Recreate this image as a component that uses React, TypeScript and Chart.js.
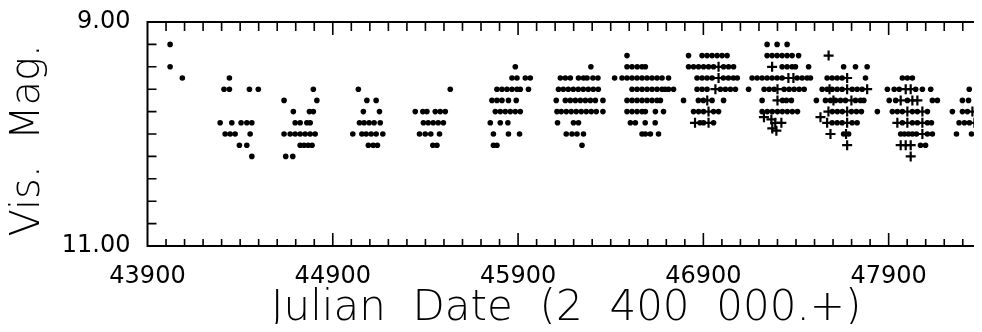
import { useEffect, useRef } from "react";
import { Chart, registerables } from "chart.js";

Chart.register(...registerables);

// Each row: [visual magnitude, Julian dates (2 400 000 +) of the estimates]
type Row = [number, number[]];

const xTickLabels = [43900, 44900, 45900, 46900, 47900];
const yTickLabels = [9.0, 11.0];
const X_MIN = 43900;
const X_MAX = 48420;
const Y_MIN = 9.0;
const Y_MAX = 11.0;

// ---- visual estimates (dots) ----
const season0: Row[] = [
  [9.2, [44022]],
  [9.4, [44022]],
  [9.5, [44088]],
];
const season1: Row[] = [
  [9.5, [44342]],
  [9.6, [44313, 44342, 44450, 44498]],
  [9.9, [44292, 44355, 44405, 44436, 44463]],
  [10.0, [44319, 44346, 44373, 44454]],
  [10.1, [44396, 44436]],
  [10.2, [44463]],
];
const season2: Row[] = [
  [9.6, [44795]],
  [9.7, [44637, 44814]],
  [9.8, [44687, 44774, 44795]],
  [9.9, [44697, 44724, 44760, 44778]],
  [10.0, [44637, 44670, 44697, 44724, 44751, 44778, 44805]],
  [10.1, [44724, 44745, 44767, 44788]],
  [10.2, [44646, 44684]],
];
const season3: Row[] = [
  [9.6, [45038]],
  [9.7, [45084, 45134]],
  [9.8, [45065, 45152]],
  [9.9, [45044, 45069, 45096, 45123, 45156]],
  [10.0, [45008, 45057, 45080, 45107, 45134, 45170]],
  [10.1, [45092, 45118, 45141]],
];
const season4: Row[] = [
  [9.6, [45534]],
  [9.8, [45345, 45386, 45408, 45453, 45480, 45507]],
  [9.9, [45389, 45415, 45442, 45469, 45497]],
  [10.0, [45368, 45399, 45429, 45476]],
  [10.1, [45440, 45462]],
];
const season5: Row[] = [
  [9.4, [45885]],
  [9.5, [45867, 45894, 45939, 45966]],
  [9.6, [45786, 45813, 45840, 45867, 45894, 45912, 45956]],
  [9.7, [45759, 45786, 45813, 45848, 45890]],
  [9.8, [45777, 45804, 45831, 45858, 45885, 45912]],
  [9.9, [45750, 45804, 45845]],
  [10.0, [45767, 45848, 45908]],
  [10.1, [45767, 45786]],
];
const season6: Row[] = [
  [9.4, [46293]],
  [9.5, [46128, 46155, 46182, 46226, 46253, 46272, 46304, 46331]],
  [9.6, [46118, 46144, 46171, 46198, 46225, 46252, 46279, 46306, 46333]],
  [9.7, [46106, 46155, 46182, 46209, 46236, 46263, 46290, 46317, 46358]],
  [9.8, [46110, 46133, 46160, 46187, 46214, 46241, 46268, 46295, 46322, 46358]],
  [9.9, [46113, 46199, 46226]],
  [10.0, [46160, 46191, 46218, 46253]],
  [10.1, [46245]],
];
const season7: Row[] = [
  [9.3, [46488]],
  [9.4, [46488, 46515, 46543, 46569, 46587]],
  [9.5, [46421, 46461, 46488, 46515, 46542, 46569, 46596, 46623, 46650, 46677, 46712]],
  [9.6, [46515, 46542, 46569, 46596, 46623, 46650, 46677, 46694, 46712, 46739]],
  [9.7, [46488, 46515, 46542, 46569, 46596, 46623, 46650, 46668]],
  [9.8, [46488, 46515, 46542, 46569, 46587, 46641, 46685]],
  [9.9, [46506, 46533, 46586, 46640]],
  [10.0, [46569, 46587, 46614, 46658]],
];
const season8: Row[] = [
  [9.3, [46820, 46893, 46920, 46947, 46974, 47001, 47028]],
  [9.4, [46820, 46847, 46874, 46901, 46928, 46955, 47009, 47036, 47063]],
  [9.5, [46866, 46893, 46920, 46947, 47008, 47035, 47062, 47083]],
  [9.6, [46866, 46893, 46920, 46992, 47019, 47046, 47073]],
  [9.7, [46793, 46873, 46900, 46947, 47009]],
  [9.8, [46847, 46874, 46901, 46955, 46982]],
  [9.9, [46882, 46901, 46955]],
];
const season9: Row[] = [
  [9.2, [47244, 47298, 47352]],
  [9.3, [47244, 47271, 47298, 47325, 47352, 47379, 47414]],
  [9.4, [47325, 47352, 47379, 47397, 47468]],
  [9.5, [47163, 47190, 47217, 47244, 47271, 47298, 47325, 47406, 47433, 47460, 47478]],
  [9.6, [47144, 47228, 47255, 47282, 47336, 47363, 47390, 47417, 47444]],
  [9.7, [47217, 47327, 47348, 47375]],
  [9.8, [47217, 47245, 47272, 47300, 47326, 47353, 47380, 47408]],
];
const season10: Row[] = [
  [9.4, [47657, 47721, 47784]],
  [9.5, [47568, 47595, 47622, 47649, 47775]],
  [9.6, [47541, 47568, 47595, 47622, 47649, 47703, 47730, 47757]],
  [9.7, [47510, 47559, 47586, 47613, 47640, 47667, 47721, 47748, 47766]],
  [9.8, [47596, 47623, 47650, 47699, 47726, 47753]],
  [9.9, [47595, 47622, 47649, 47703, 47730]],
  [10.0, [47657, 47684]],
];
const season11: Row[] = [
  [9.5, [47974, 48001, 48028]],
  [9.6, [47893, 47930, 47957, 48046, 48082, 48127]],
  [9.7, [47903, 47938, 48001, 48136, 48163]],
  [9.8, [47839, 47920, 47947, 47974, 48028, 48055, 48109]],
  [9.9, [47974, 48028, 48055, 48109, 48131]],
  [10.0, [47965, 47985, 48007, 48028, 48050, 48109, 48136]],
  [10.1, [48072, 48099]],
];
const season12: Row[] = [
  [9.6, [48335]],
  [9.7, [48298, 48331]],
  [9.8, [48244, 48298, 48325, 48379]],
  [9.9, [48280, 48309, 48336, 48390]],
  [10.0, [48266, 48347]],
];

// ---- second set of estimates (plus signs) ----
const plus8: Row[] = [
  [9.4, [46982]],
  [9.5, [46982]],
  [9.6, [46965]],
  [9.7, [46921]],
  [9.8, [46928]],
  [9.9, [46855, 46928]],
];
const plus9: Row[] = [
  [9.4, [47271]],
  [9.5, [47359, 47386]],
  [9.6, [47300]],
  [9.7, [47300]],
  [9.85, [47227]],
  [9.87, [47267]],
  [9.9, [47288, 47321]],
  [9.95, [47272]],
  [9.97, [47294]],
];
const plus10: Row[] = [
  [9.3, [47576]],
  [9.5, [47676]],
  [9.6, [47581, 47676, 47784]],
  [9.7, [47602, 47699]],
  [9.8, [47575, 47676]],
  [9.85, [47532]],
  [9.9, [47568, 47676]],
  [10.0, [47586, 47670]],
  [10.1, [47676]],
];
const plus11: Row[] = [
  [9.6, [47992, 48019]],
  [9.7, [47965, 48028, 48055]],
  [9.8, [48001, 48082]],
  [9.9, [47947, 48001, 48082]],
  [10.0, [48082]],
  [10.1, [47965, 47992, 48019]],
  [10.2, [48019]],
];
const plus12: Row[] = [
  [9.8, [48352]],
  [9.9, [48363]],
];

const dotSeasons = [season0, season1, season2, season3, season4, season5, season6, season7, season8, season9, season10, season11, season12];
const plusSeasons = [plus8, plus9, plus10, plus11, plus12];

const toPoints = (rows: Row[]) => rows.flatMap(([mag, jds]) => jds.map((jd) => ({ x: jd, y: mag })));

const FONT = "'DejaVu Sans', sans-serif";

const frameTicks = {
  id: "frameTicks",
  afterDatasetsDraw(chart: any) {
    const { ctx, chartArea: a, scales } = chart;
    const x = scales.x;
    const y = scales.y;
    ctx.save();
    ctx.strokeStyle = "#000";
    ctx.lineWidth = 1.6;
    ctx.beginPath();
    for (let i = 1; i * 100 + X_MIN < X_MAX; i++) {
      const v = X_MIN + i * 100;
      const px = x.getPixelForValue(v);
      const major = i % 10 === 0;
      ctx.moveTo(px, a.bottom);
      ctx.lineTo(px, a.bottom - (major ? 13 : 7));
      ctx.moveTo(px, a.top);
      ctx.lineTo(px, a.top + (major ? 13 : 9));
    }
    for (let i = 1; i < 10; i++) {
      const py = y.getPixelForValue(Y_MIN + i * 0.2);
      ctx.moveTo(a.left, py);
      ctx.lineTo(a.left + 9, py);
      ctx.moveTo(a.right, py);
      ctx.lineTo(a.right - 9, py);
    }
    ctx.stroke();
    ctx.lineWidth = 2;
    ctx.strokeRect(a.left, a.top, a.right - a.left, a.bottom - a.top);
    ctx.restore();
  },
};

export default function App() {
  const ref = useRef<HTMLCanvasElement | null>(null);

  useEffect(() => {
    if (!ref.current) return;
    const chart = new Chart(ref.current, {
      type: "scatter",
      data: {
        datasets: [
          {
            label: "visual",
            data: dotSeasons.flatMap(toPoints),
            pointStyle: "circle",
            pointRadius: 2.8,
            backgroundColor: "#000",
            borderWidth: 0,
          },
          {
            label: "plus",
            data: plusSeasons.flatMap(toPoints),
            pointStyle: "cross",
            pointRadius: 5,
            borderColor: "#000",
            borderWidth: 2.2,
          },
        ],
      },
      options: {
        responsive: false,
        animation: false,
        devicePixelRatio: 1,
        layout: { autoPadding: false, padding: { top: 14, right: 3, left: 0, bottom: 0 } },
        plugins: { legend: { display: false }, tooltip: { enabled: false } },
        scales: {
          x: {
            type: "linear",
            min: X_MIN,
            max: X_MAX,
            afterBuildTicks: (s: any) => {
              s.ticks = xTickLabels.map((v) => ({ value: v }));
            },
            afterFit: (s: any) => {
              s.height = 86;
              s.paddingLeft = 0;
              s.paddingRight = 0;
            },
            grid: { display: false, drawTicks: false },
            border: { display: false },
            ticks: {
              autoSkip: false,
              maxRotation: 0,
              padding: 16,
              color: "#000",
              font: { family: FONT, size: 24 },
              callback: (v: any) => String(v),
            },
            title: {
              display: true,
              text: "Julian  Date  (2  400  000.+)",
              color: "#000",
              font: { family: FONT, size: 42, lineHeight: 1, weight: "200" as any },
              padding: { top: 0, bottom: 2 },
            },
          },
          y: {
            type: "linear",
            min: Y_MIN,
            max: Y_MAX,
            reverse: true,
            afterBuildTicks: (s: any) => {
              s.ticks = yTickLabels.map((v) => ({ value: v }));
            },
            afterFit: (s: any) => {
              s.width = 139.5;
              s.paddingTop = 0;
              s.paddingBottom = 0;
            },
            grid: { display: false, drawTicks: false },
            border: { display: false },
            ticks: {
              padding: 17,
              color: "#000",
              font: { family: FONT, size: 24 },
              callback: (v: any) => Number(v).toFixed(2),
            },
            title: {
              display: true,
              text: "Vis.  Mag. ",
              color: "#000",
              font: { family: FONT, size: 40, lineHeight: 1, weight: "200" as any },
              padding: { top: 1, bottom: 0 },
            },
          },
        },
      },
      plugins: [frameTicks],
    });
    return () => chart.destroy();
  }, []);

  return (
    <div style={{ width: 974, height: 324, overflow: "hidden", marginBottom: -8 }}>
      <canvas ref={ref} width={980} height={324} style={{ display: "block" }} />
    </div>
  );
}
